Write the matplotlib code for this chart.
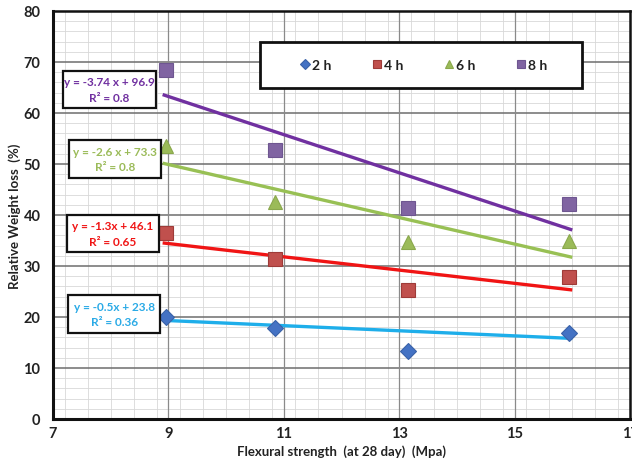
import matplotlib
matplotlib.use("Agg")
import matplotlib.pyplot as plt
from matplotlib.patches import Rectangle
from matplotlib.ticker import MultipleLocator
import numpy as np

plt.rcParams['font.family'] = ['Lato', 'DejaVu Sans']

# ---- data ----
flexural = [8.95, 10.85, 13.15, 15.95]
series_names = ["2 h", "4 h", "6 h", "8 h"]
loss_2h = [20.0, 17.8, 13.3, 16.9]
loss_4h = [36.5, 31.3, 25.3, 27.9]
loss_6h = [53.5, 42.5, 34.7, 34.9]
loss_8h = [68.5, 52.7, 41.4, 42.1]
slopes = [-0.5, -1.3, -2.6, -3.74]
intercepts = [23.8, 46.1, 73.3, 96.9]
eq_labels = ["y = -0.5x + 23.8\nR² = 0.36",
             "y = -1.3x + 46.1\nR² = 0.65",
             "y = -2.6 x + 73.3\nR² = 0.8",
             "y = -3.74 x + 96.9\nR² = 0.8"]
trend_x = [8.9, 16.0]
x_ticks = [7, 9, 11, 13, 15, 17]
y_ticks = [0, 10, 20, 30, 40, 50, 60, 70, 80]

# ---- styles ----
marker_colors = ["#4472C4", "#C0504D", "#9BBB59", "#8064A2"]
marker_edges = ["#3A62A8", "#9E3B38", "#8AA84C", "#6E5690"]
markers = ["D", "s", "^", "s"]
msizes = [8, 10, 10, 10]
line_colors = ["#1EAEEA", "#F01414", "#98C054", "#7030A0"]
text_colors = ["#2AAAE6", "#F01414", "#9BBB59", "#7030A0"]
box_centers = [(8.06, 20.6), (8.04, 36.4), (8.07, 51.0), (7.98, 64.6)]
box_w, box_h = 1.6, 7.3

fig = plt.figure(figsize=(6.32, 4.64), dpi=100)
ax = fig.add_axes([53/632, 1-420/464, 577/632, 408/464])

ax.set_xlim(7, 17)
ax.set_ylim(0, 80)
ax.xaxis.set_minor_locator(MultipleLocator(0.4))
ax.yaxis.set_minor_locator(MultipleLocator(2))
ax.set_xticks(x_ticks)
ax.set_yticks(y_ticks)
ax.grid(which='minor', color='#D8D8D8', linewidth=0.6)
ax.set_axisbelow(True)
# major grid drawn above the minor grid
for yv in y_ticks[1:-1]:
    ax.axhline(yv, color='#6E6E6E', linewidth=1.1, zorder=1)
for xv in x_ticks[1:-1]:
    ax.axvline(xv, color='#8A8A8A', linewidth=0.9, zorder=1)

ax.tick_params(which='both', length=0)
ax.tick_params(axis='x', pad=5)
ax.tick_params(axis='y', pad=9)
for lbl in ax.get_xticklabels() + ax.get_yticklabels():
    lbl.set_fontsize(10.5)
    lbl.set_fontweight('bold')
    lbl.set_color('#222222')
for s in ax.spines.values():
    s.set_linewidth(1.8)
    s.set_color('#111111')
    s.set_zorder(8)
ax.spines['left'].set_linewidth(2.2)
ax.spines['bottom'].set_linewidth(2.2)

all_series = [loss_2h, loss_4h, loss_6h, loss_8h]
handles = []
for i, ys in enumerate(all_series):
    tx = np.array(trend_x)
    ax.plot(tx, slopes[i]*tx + intercepts[i], color=line_colors[i], lw=2.4,
            solid_capstyle='butt', zorder=3)
    h, = ax.plot(flexural, ys, linestyle='none', marker=markers[i], ms=msizes[i],
                 mfc=marker_colors[i], mec=marker_edges[i], mew=0.8, zorder=4,
                 label=series_names[i])
    handles.append(h)
    cx, cy = box_centers[i]
    ax.add_patch(Rectangle((cx - box_w/2, cy - box_h/2), box_w, box_h,
                           facecolor='white', edgecolor='#111111', lw=1.6, zorder=5))
    ax.text(cx, cy, eq_labels[i], color=text_colors[i], fontsize=8.5,
            fontweight='bold', ha='center', va='center', linespacing=1.5, zorder=6)

# legend frame
lx0, lx1 = (260-53)/577, (582-53)/577
ly0, ly1 = (420-89)/408, (420-43)/408
ax.add_patch(Rectangle((lx0, ly0), lx1-lx0, ly1-ly0, transform=ax.transAxes,
                       facecolor='white', edgecolor='#111111', lw=2.0, zorder=5))
leg = ax.legend(handles=handles, ncol=4, loc='center',
                bbox_to_anchor=((lx0+lx1)/2 + 0.005, (ly0+ly1)/2),
                frameon=False, markerscale=0.6, handlelength=0.6,
                handletextpad=0.2, columnspacing=3.0,
                prop={'weight': 'bold', 'size': 10})
leg.set_zorder(7)
for t in leg.get_texts():
    t.set_color('#222222')

ax.set_xlabel("Flexural strength  (at 28 day)  (Mpa)", fontsize=9.5,
              fontweight='bold', color='#222222')
ax.set_ylabel("Relative Weight loss  (%)", fontsize=9.5, fontweight='bold',
              color='#222222')
ax.xaxis.set_label_coords(0.5, (420-452)/408, transform=ax.transAxes)
ax.yaxis.set_label_coords((15-53)/577, 0.5)
ax.xaxis.label.set_va('center')
ax.yaxis.label.set_va('center')

fig.savefig("out.png", dpi=100)
